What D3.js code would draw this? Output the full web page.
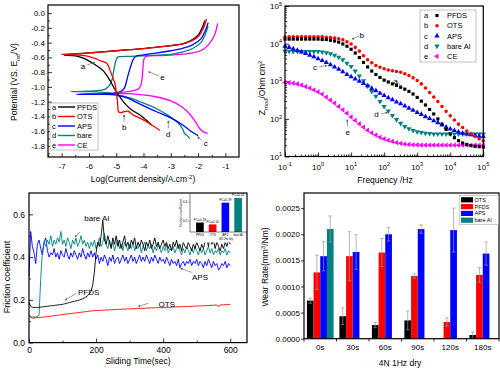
<!DOCTYPE html>
<meta charset="utf-8">
<style>
body { margin: 0; background: #fff; }
svg { font-family: "Liberation Sans", Arial, sans-serif; }
.frame { fill: none; stroke: #000; stroke-width: 1.2px; }
.axis path.domain { display: none; }
.axis line { stroke: #000; stroke-width: 0.8px; }
.axis text { fill: #000; }
.curve { fill: none; stroke-width: 1.3px; }
.trace { fill: none; stroke-width: 0.9px; }
.pointer { stroke: #555; stroke-width: 0.6px; fill: none; }
</style>
<body>
<svg width="500" height="374">
  <defs>
    <marker id="head" viewBox="0 0 6 6" refX="5" refY="3" markerWidth="4" markerHeight="4" orient="auto">
      <path d="M0,0L6,3L0,6Z" fill="#555"></path>
    </marker>
  </defs>
</svg>
</body>
<script src="https://d3js.org/d3.v7.min.js"></script>
<script>
// ---- (a) polarization curves: log current density vs potential ----
var pfdsLogI = [-1.75,-1.85,-2.0,-2.3,-2.6,-3.0,-3.5,-4.0,-4.5,-5.0,-5.5,-6.0,-6.5,-6.9,-6.5,-6.2,-5.9,-5.65,-5.48,-5.3,-5.17,-5.07,-4.99,-4.8,-4.62,-4.4,-4.13,-3.9,-3.7];
var pfdsE    = [-0.10,-0.20,-0.30,-0.38,-0.42,-0.44,-0.46,-0.48,-0.495,-0.51,-0.525,-0.54,-0.555,-0.57,-0.58,-0.61,-0.67,-0.73,-0.78,-0.87,-0.95,-1.02,-1.07,-1.17,-1.25,-1.32,-1.38,-1.45,-1.52];
var otsLogI  = [-1.69,-1.8,-1.95,-2.2,-2.5,-3.0,-3.5,-4.0,-4.5,-5.0,-5.5,-6.0,-6.5,-7.0,-6.5,-6.1,-5.8,-5.55,-5.35,-5.2,-5.1,-5.05,-5.0,-4.96,-4.94,-4.93,-4.87,-4.75,-4.56,-4.45,-4.38,-4.1,-3.89,-3.6,-3.4];
var otsE     = [-0.08,-0.20,-0.30,-0.37,-0.41,-0.44,-0.46,-0.48,-0.495,-0.51,-0.525,-0.54,-0.55,-0.56,-0.565,-0.58,-0.61,-0.65,-0.68,-0.80,-0.90,-0.95,-1.06,-1.18,-1.27,-1.32,-1.35,-1.34,-1.33,-1.36,-1.38,-1.43,-1.47,-1.54,-1.59];
var apsLogI  = [-1.63,-1.75,-1.9,-2.2,-2.6,-3.0,-3.5,-4.0,-4.25,-4.35,-4.45,-4.55,-4.62,-4.68,-4.78,-5.0,-5.4,-6.0,-6.45,-6.0,-5.5,-5.0,-4.6,-4.2,-3.8,-3.5,-3.0,-2.55,-2.3,-2.0];
var apsE     = [-0.13,-0.25,-0.35,-0.43,-0.48,-0.51,-0.54,-0.565,-0.58,-0.61,-0.70,-0.82,-0.92,-1.00,-1.05,-1.08,-1.09,-1.095,-1.10,-1.10,-1.10,-1.11,-1.15,-1.22,-1.29,-1.34,-1.42,-1.52,-1.59,-1.66];
var bareLogI = [-1.63,-1.75,-1.9,-2.2,-2.6,-3.0,-3.5,-4.0,-4.5,-4.85,-4.95,-5.0,-5.05,-5.1,-5.15,-5.25,-5.4,-5.7,-6.2,-6.65,-6.0,-5.5,-5.0,-4.5,-4.0,-3.5,-3.0,-2.7,-2.55,-2.5,-2.4,-2.3];
var bareE    = [-0.18,-0.30,-0.40,-0.48,-0.53,-0.56,-0.57,-0.58,-0.585,-0.59,-0.60,-0.63,-0.70,-0.80,-0.90,-0.98,-1.03,-1.05,-1.06,-1.065,-1.065,-1.075,-1.10,-1.15,-1.22,-1.30,-1.41,-1.50,-1.58,-1.63,-1.66,-1.70];
var ceLogI   = [-1.28,-1.4,-1.6,-1.85,-2.2,-2.7,-3.3,-3.8,-3.95,-4.0,-4.02,-4.05,-4.1,-4.2,-4.5,-5.0,-5.1,-4.7,-4.2,-3.6,-3.0,-2.6,-2.3,-2.1,-1.95,-1.8,-1.65];
var ceE      = [-0.14,-0.30,-0.42,-0.50,-0.54,-0.56,-0.575,-0.58,-0.60,-0.65,-0.75,-0.88,-0.98,-1.03,-1.06,-1.08,-1.085,-1.09,-1.10,-1.13,-1.19,-1.27,-1.37,-1.47,-1.56,-1.61,-1.63];

// ---- (b) impedance modulus vs frequency (log10 values) ----
var logFreq = [-1,-0.875,-0.75,-0.625,-0.5,-0.375,-0.25,-0.125,0,0.125,0.25,0.375,0.5,0.625,0.75,0.875,1,1.125,1.25,1.375,1.5,1.625,1.75,1.875,2,2.125,2.25,2.375,2.5,2.625,2.75,2.875,3,3.125,3.25,3.375,3.5,3.625,3.75,3.875,4,4.125,4.25,4.375,4.5,4.625,4.75,4.875,5];
var pfdsLogZ = [4.12,4.12,4.12,4.12,4.12,4.12,4.12,4.12,4.12,4.11,4.11,4.09,4.07,4.04,3.99,3.93,3.85,3.75,3.63,3.50,3.38,3.27,3.18,3.10,3.03,2.98,2.93,2.89,2.84,2.79,2.73,2.66,2.57,2.47,2.37,2.25,2.13,2.00,1.86,1.72,1.60,1.50,1.42,1.36,1.32,1.29,1.27,1.26,1.25];
var otsLogZ  = [4.18,4.18,4.18,4.18,4.18,4.18,4.18,4.18,4.18,4.18,4.17,4.16,4.15,4.13,4.10,4.05,3.99,3.90,3.80,3.68,3.57,3.49,3.42,3.37,3.33,3.30,3.28,3.26,3.24,3.20,3.15,3.09,3.02,2.93,2.82,2.70,2.58,2.46,2.33,2.20,2.08,1.97,1.86,1.77,1.68,1.60,1.53,1.47,1.42];
var apsLogZ  = [3.93,3.90,3.86,3.82,3.78,3.74,3.69,3.65,3.60,3.55,3.50,3.44,3.38,3.32,3.25,3.18,3.12,3.06,3.00,2.94,2.88,2.81,2.75,2.68,2.62,2.56,2.51,2.45,2.40,2.34,2.28,2.23,2.17,2.12,2.06,2.01,1.95,1.90,1.84,1.78,1.73,1.69,1.65,1.62,1.60,1.58,1.56,1.54,1.53];
var bareLogZ = [3.80,3.80,3.79,3.79,3.79,3.79,3.79,3.79,3.79,3.78,3.76,3.73,3.69,3.64,3.57,3.48,3.39,3.27,3.14,3.01,2.87,2.73,2.60,2.46,2.33,2.21,2.09,1.98,1.88,1.80,1.74,1.69,1.66,1.64,1.62,1.61,1.60,1.60,1.60,1.60,1.60,1.60,1.60,1.60,1.60,1.60,1.60,1.60,1.60];
var ceLogZ   = [2.97,2.96,2.95,2.93,2.90,2.86,2.82,2.77,2.72,2.66,2.58,2.50,2.42,2.33,2.24,2.15,2.05,1.96,1.87,1.78,1.70,1.63,1.57,1.51,1.47,1.43,1.40,1.37,1.35,1.33,1.32,1.31,1.31,1.30,1.30,1.30,1.30,1.30,1.30,1.30,1.30,1.30,1.30,1.30,1.30,1.30,1.30,1.30,1.30];

// ---- (c) friction coefficient vs sliding time ----
var slideTime = [0,5,10,15,20,25,30,35,40,45, 50,55,60,65,70,75,80,85,90,95,
  100,105,110,115,120,125,130,135,140,145, 150,155,160,165,170,175,180,185,190,195,
  200,205,210,215,220,225,230,235,240,245, 250,255,260,265,270,275,280,285,290,295,
  300,305,310,315,320,325,330,335,340,345, 350,355,360,365,370,375,380,385,390,395,
  400,405,410,415,420,425,430,435,440,445, 450,455,460,465,470,475,480,485,490,495,
  500,505,510,515,520,525,530,535,540,545, 550,555,560,565,570,575,580,585,590,595, 600];
var apsFric = [0.31,0.52,0.45,0.42,0.37,0.46,0.48,0.44,0.41,0.47, 0.49,0.43,0.40,0.42,0.41,0.44,0.40,0.42,0.39,0.43,
  0.41,0.40,0.44,0.41,0.39,0.42,0.40,0.43,0.41,0.39, 0.42,0.40,0.44,0.41,0.39,0.42,0.40,0.43,0.40,0.42,
  0.39,0.41,0.37,0.40,0.38,0.41,0.39,0.36,0.40,0.38, 0.41,0.37,0.39,0.40,0.37,0.39,0.41,0.38,0.40,0.37,
  0.39,0.41,0.38,0.40,0.37,0.39,0.41,0.38,0.40,0.38, 0.41,0.39,0.37,0.40,0.38,0.41,0.39,0.37,0.40,0.38,
  0.39,0.37,0.40,0.38,0.36,0.39,0.37,0.38,0.36,0.39, 0.35,0.37,0.38,0.36,0.38,0.37,0.39,0.36,0.38,0.37,
  0.39,0.36,0.38,0.37,0.35,0.38,0.36,0.39,0.37,0.35, 0.38,0.36,0.37,0.34,0.35,0.37,0.36,0.38,0.35,0.37, 0.36];
var bareFric = [0.13,0.12,0.12,0.12,0.12,0.12,0.13,0.30,0.43,0.47, 0.45,0.48,0.46,0.50,0.45,0.48,0.46,0.49,0.47,0.52,
  0.46,0.48,0.45,0.49,0.47,0.44,0.48,0.46,0.49,0.45, 0.47,0.50,0.46,0.48,0.45,0.47,0.44,0.47,0.45,0.48,
  0.44,0.46,0.49,0.45,0.47,0.51,0.46,0.44,0.48,0.45, 0.47,0.43,0.46,0.48,0.44,0.46,0.43,0.47,0.45,0.43,
  0.46,0.44,0.47,0.43,0.45,0.44,0.46,0.42,0.45,0.47, 0.43,0.45,0.44,0.46,0.42,0.45,0.43,0.46,0.44,0.42,
  0.45,0.43,0.46,0.42,0.44,0.43,0.45,0.42,0.44,0.46, 0.43,0.41,0.44,0.42,0.45,0.43,0.41,0.44,0.42,0.45,
  0.43,0.41,0.44,0.42,0.44,0.41,0.43,0.45,0.42,0.44, 0.41,0.43,0.42,0.44,0.41,0.43,0.42,0.44,0.41,0.43, 0.42];
var pfdsFric = [0.19,0.17,0.165,0.164,0.164,0.165,0.165,0.166,0.167,0.168, 0.169,0.170,0.171,0.172,0.173,0.174,0.175,0.176,0.177,0.178,
  0.179,0.181,0.183,0.185,0.187,0.189,0.191,0.193,0.195,0.197, 0.199,0.202,0.205,0.209,0.214,0.220,0.228,0.240,0.270,0.330,
  0.42,0.47,0.45,0.50,0.57,0.48,0.46,0.50,0.47,0.44, 0.49,0.46,0.50,0.45,0.48,0.44,0.47,0.50,0.45,0.47,
  0.44,0.48,0.46,0.49,0.44,0.47,0.45,0.48,0.46,0.43, 0.47,0.45,0.48,0.44,0.46,0.49,0.45,0.47,0.44,0.46,
  0.48,0.45,0.47,0.44,0.46,0.43,0.47,0.45,0.48,0.44, 0.46,0.43,0.47,0.45,0.44,0.47,0.45,0.43,0.46,0.44,
  0.47,0.45,0.43,0.46,0.44,0.47,0.49,0.45,0.50,0.46, 0.48,0.44,0.47,0.45,0.43,0.46,0.44,0.47,0.45,0.48, 0.46];
var otsFric = [0.130,0.118,0.115,0.115,0.116,0.117,0.118,0.118,0.119,0.120, 0.121,0.122,0.123,0.124,0.125,0.126,0.127,0.128,0.129,0.130,
  0.131,0.132,0.133,0.134,0.135,0.136,0.137,0.138,0.139,0.140, 0.141,0.142,0.143,0.144,0.145,0.146,0.147,0.148,0.149,0.149,
  0.150,0.151,0.150,0.152,0.151,0.152,0.153,0.152,0.154,0.153, 0.154,0.155,0.154,0.156,0.155,0.156,0.157,0.156,0.157,0.158,
  0.157,0.158,0.159,0.158,0.160,0.159,0.160,0.161,0.160,0.161, 0.162,0.161,0.162,0.163,0.162,0.163,0.164,0.163,0.164,0.163,
  0.165,0.164,0.165,0.166,0.165,0.166,0.167,0.166,0.167,0.168, 0.167,0.168,0.169,0.168,0.169,0.170,0.169,0.170,0.171,0.170,
  0.171,0.172,0.171,0.172,0.173,0.172,0.174,0.173,0.174,0.175, 0.174,0.176,0.175,0.168,0.176,0.177,0.176,0.178,0.177,0.179, 0.178];
var insetCats = ["PFDS", "OTS", "APS", "bare Al"];
var insetFric = [0.18, 0.16, 0.39, 0.44];

// ---- (d) wear rate bars ----
var wearCats = ["0s", "30s", "60s", "90s", "120s", "180s"];
var wearSeries = ["OTS", "PFDS", "APS", "bare Al"];
var otsWear  = [0.00073, 0.00043, 0.00026, 0.00035, 0.00001, 0.00007];
var otsErr   = [0.00005, 0.00016, 0.00005, 0.00018, 0, 0.00006];
var pfdsWear = [0.00127, 0.00158, 0.00165, 0.00120, 0.00032, 0.00122];
var pfdsErr  = [0.00033, 0.00047, 0.00027, 0.00004, 0.00008, 0.00014];
var apsWear  = [0.00158, 0.00166, 0.00200, 0.00210, 0.00208, 0.00163];
var apsErr   = [0.00028, 0.00033, 0.00013, 0.00008, 0.00042, 0.00022];
var bareWear = [0.00210, null, null, null, null, null];
var bareErr  = [0.00025, null, null, null, null, null];

var colors = { PFDS: "#000000", OTS: "#ff0000", APS: "#0000ff", bare: "#008080", CE: "#ff00ff" };

var svg = d3.select("svg");

function addAxis(axis, tx, ty, size) {
    var a = svg.append("g")
        .attr("class", "axis")
        .attr("transform", "translate(" + tx + "," + ty + ")")
        .call(axis);
    a.attr("font-family", null).attr("font-size", size || 8);
    return a;
}

// text with sub/superscripts: parts = [[text, 0|1|-1], ...]
function richText(sel, parts, size) {
    var prev = 0;
    parts.forEach(function(p) {
        var shift = p[1] === 1 ? -0.4 : (p[1] === -1 ? 0.3 : 0);
        sel.append("tspan")
            .attr("font-size", p[1] ? size * 0.7 : size)
            .attr("dy", ((shift - prev) * size) + "px")
            .text(p[0]);
        prev = shift;
    });
    return sel;
}

function pointer(x, y, a, b, c, d) {
    svg.append("line").attr("class", "pointer")
        .attr("x1", x(a)).attr("y1", y(b)).attr("x2", x(c)).attr("y2", y(d))
        .attr("marker-end", "url(#head)");
}
function note(x, y, a, b, t, size) {
    svg.append("text")
        .attr("x", x(a)).attr("y", y(b)).attr("dy", "0.35em")
        .attr("text-anchor", "middle")
        .attr("font-size", size || 8)
        .text(t);
}

// =================== panel (a) ===================
var x1 = d3.scaleLinear().domain([-7.5, -0.5]).range([48, 239]);
var y1 = d3.scaleLinear().domain([-1.95, 0.11]).range([157, 5]);

addAxis(d3.axisBottom(x1).tickValues([-7, -6, -5, -4, -3, -2, -1]).tickSize(-4).tickPadding(6)
    .tickFormat(function(d) { return String(d); }), 0, 157);
addAxis(d3.axisBottom(x1).tickValues([-7.5, -6.5, -5.5, -4.5, -3.5, -2.5, -1.5]).tickSize(-2).tickFormat(""), 0, 157);
addAxis(d3.axisLeft(y1).tickValues([0, -0.2, -0.4, -0.6, -0.8, -1.0, -1.2, -1.4, -1.6, -1.8]).tickSize(-4).tickPadding(3)
    .tickFormat(function(d) { return d.toFixed(1); }), 48, 0);
addAxis(d3.axisLeft(y1).tickValues([-0.1, -0.3, -0.5, -0.7, -0.9, -1.1, -1.3, -1.5, -1.7, -1.9]).tickSize(-2).tickFormat(""), 48, 0);

var polSeries = [
    { tag: "e", name: "CE",   color: colors.CE,   x: ceLogI,   y: ceE },
    { tag: "d", name: "bare", color: colors.bare, x: bareLogI, y: bareE },
    { tag: "c", name: "APS",  color: colors.APS,  x: apsLogI,  y: apsE },
    { tag: "a", name: "PFDS", color: colors.PFDS, x: pfdsLogI, y: pfdsE },
    { tag: "b", name: "OTS",  color: colors.OTS,  x: otsLogI,  y: otsE }
];
var polLine = d3.line()
    .curve(d3.curveCatmullRom.alpha(0.5))
    .x(function(d) { return x1(d[0]); })
    .y(function(d) { return y1(d[1]); });

svg.append("g").selectAll("path")
    .data(polSeries)
    .enter().append("path")
    .attr("class", "curve")
    .style("stroke", function(d) { return d.color; })
    .attr("d", function(d) { return polLine(d3.zip(d.x, d.y)); });

svg.append("rect").attr("class", "frame").attr("x", 48).attr("y", 5).attr("width", 191).attr("height", 152);

// legend (a)
var leg1 = svg.append("g").attr("transform", "translate(50,103)");
leg1.append("rect").attr("width", 48).attr("height", 47).attr("fill", "#fff").attr("stroke", "#999").attr("stroke-width", 0.6);
var leg1Items = leg1.selectAll("g.item")
    .data(polSeries.slice().sort(function(a, b) { return a.tag < b.tag ? -1 : 1; }))
    .enter().append("g")
    .attr("transform", function(d, i) { return "translate(0," + (4 + i * 9.5) + ")"; });
leg1Items.append("text").attr("x", 2).attr("dy", "0.35em").attr("font-size", 7.5).text(function(d) { return d.tag; });
leg1Items.append("line").attr("x1", 8).attr("x2", 25).attr("stroke-width", 1.4)
    .attr("stroke", function(d) { return d.color; });
leg1Items.append("text").attr("x", 27).attr("dy", "0.35em").attr("font-size", 7.5).text(function(d) { return d.name; });

note(x1, y1, -6.22, -0.717, "a"); pointer(x1, y1, -6.06, -0.70, -5.78, -0.67);
note(x1, y1, -3.30, -0.87, "e");  pointer(x1, y1, -3.42, -0.852, -3.82, -0.795);
note(x1, y1, -4.71, -1.54, "b");  pointer(x1, y1, -4.71, -1.47, -4.71, -1.38);
note(x1, y1, -3.09, -1.64, "d");  pointer(x1, y1, -3.09, -1.56, -3.09, -1.46);
note(x1, y1, -1.72, -1.76, "c");  pointer(x1, y1, -1.87, -1.72, -2.02, -1.68);

richText(svg.append("text").attr("x", 143).attr("y", 182).attr("text-anchor", "middle"),
    [["Log(Current density/A.cm", 0], ["-2", 1], [")", 0]], 8.5);
richText(svg.append("text").attr("transform", "translate(17,82) rotate(-90)").attr("text-anchor", "middle"),
    [["Potential (VS. E", 0], ["ref", -1], ["/V)", 0]], 8.5);

// =================== panel (b) ===================
var x2 = d3.scaleLog().domain([0.1, 1e5]).range([285, 483.3]);
var y2 = d3.scaleLog().domain([10, 1e5]).range([156.5, 6]);
var decadesX = [0.1, 1, 10, 100, 1e3, 1e4, 1e5];
var decadesY = [10, 100, 1e3, 1e4, 1e5];
function minorOf(decs) {
    var m = [];
    decs.slice(0, -1).forEach(function(d) { [2, 3, 4, 5, 6, 7, 8, 9].forEach(function(k) { m.push(d * k); }); });
    return m;
}
addAxis(d3.axisBottom(x2).tickValues(decadesX).tickSize(-4).tickFormat(""), 0, 156.5);
addAxis(d3.axisBottom(x2).tickValues(minorOf(decadesX)).tickSize(-2).tickFormat(""), 0, 156.5);
addAxis(d3.axisLeft(y2).tickValues(decadesY).tickSize(-4).tickFormat(""), 285, 0);
addAxis(d3.axisLeft(y2).tickValues(minorOf(decadesY)).tickSize(-2).tickFormat(""), 285, 0);

decadesX.forEach(function(d) {
    richText(svg.append("text").attr("x", x2(d)).attr("y", 169.5).attr("text-anchor", "middle"),
        [["10", 0], [String(Math.round(Math.log10(d))), 1]], 8);
});
decadesY.forEach(function(d) {
    richText(svg.append("text").attr("x", 282).attr("y", y2(d) + 3).attr("text-anchor", "end"),
        [["10", 0], [String(Math.round(Math.log10(d))), 1]], 8);
});

var eisSeries = [
    { tag: "a", name: "PFDS",    color: colors.PFDS, z: pfdsLogZ, sym: d3.symbolSquare,   rot: 0,   size: 10 },
    { tag: "b", name: "OTS",     color: colors.OTS,  z: otsLogZ,  sym: d3.symbolCircle,   rot: 0,   size: 10 },
    { tag: "c", name: "APS",     color: colors.APS,  z: apsLogZ,  sym: d3.symbolTriangle, rot: 0,   size: 12 },
    { tag: "d", name: "bare Al", color: colors.bare, z: bareLogZ, sym: d3.symbolTriangle, rot: 180, size: 12 },
    { tag: "e", name: "CE",      color: colors.CE,   z: ceLogZ,   sym: d3.symbolTriangle, rot: -90, size: 12 }
];
var eisG = svg.append("g").selectAll("g")
    .data(eisSeries.slice().reverse())
    .enter().append("g")
    .attr("fill", function(d) { return d.color; });
eisG.selectAll("path")
    .data(function(s) { return s.z.map(function(v, i) { return { f: Math.pow(10, logFreq[i]), z: Math.pow(10, v), s: s }; }); })
    .enter().append("path")
    .attr("transform", function(d) { return "translate(" + x2(d.f) + "," + y2(d.z) + ") rotate(" + d.s.rot + ")"; })
    .attr("d", function(d) { return d3.symbol().type(d.s.sym).size(d.s.size)(); });

svg.append("rect").attr("class", "frame").attr("x", 285).attr("y", 6).attr("width", 198.3).attr("height", 150.5);

var leg2 = svg.append("g").attr("transform", "translate(420,10)");
leg2.append("rect").attr("width", 56).attr("height", 52).attr("fill", "#fff").attr("stroke", "#999").attr("stroke-width", 0.6);
var leg2Items = leg2.selectAll("g.item")
    .data(eisSeries)
    .enter().append("g")
    .attr("transform", function(d, i) { return "translate(0," + (5.5 + i * 10.2) + ")"; });
leg2Items.append("text").attr("x", 4).attr("dy", "0.35em").attr("font-size", 7.5).text(function(d) { return d.tag; });
leg2Items.append("path")
    .attr("transform", function(d) { return "translate(17,0) rotate(" + d.rot + ")"; })
    .attr("fill", function(d) { return d.color; })
    .attr("d", function(d) { return d3.symbol().type(d.sym).size(d.size)(); });
leg2Items.append("text").attr("x", 27).attr("dy", "0.35em").attr("font-size", 7.5).text(function(d) { return d.name; });

var lx2 = function(v) { return x2(Math.pow(10, v)); };
var ly2 = function(v) { return y2(Math.pow(10, v)); };
note(lx2, ly2, 1.32, 4.22, "b"); pointer(lx2, ly2, 1.24, 4.20, 1.03, 4.12);
note(lx2, ly2, -0.09, 3.38, "c"); pointer(lx2, ly2, 0.03, 3.38, 0.26, 3.42);
note(lx2, ly2, 2.35, 2.99, "a"); pointer(lx2, ly2, 2.43, 2.94, 2.53, 2.86);
note(lx2, ly2, 1.77, 2.13, "d"); pointer(lx2, ly2, 1.9, 2.13, 2.1, 2.17);
note(lx2, ly2, 0.9, 1.64, "e"); pointer(lx2, ly2, 0.9, 1.80, 0.88, 1.98);

svg.append("text").attr("x", 385).attr("y", 183).attr("text-anchor", "middle").attr("font-size", 8.5).text("Frequency /Hz");
richText(svg.append("text").attr("transform", "translate(265,88) rotate(-90)").attr("text-anchor", "middle"),
    [["Z", 0], ["mod", -1], ["/Ohm cm", 0], ["2", 1]], 8.5);

// =================== panel (c) ===================
var x3 = d3.scaleLinear().domain([0, 650]).range([29, 247]);
var y3 = d3.scaleLinear().domain([0, 0.7]).range([342.6, 193]);

addAxis(d3.axisBottom(x3).tickValues([0, 200, 400, 600]).tickSize(-4).tickPadding(4), 0, 342.6, 8.5);
addAxis(d3.axisBottom(x3).tickValues([100, 300, 500]).tickSize(-2).tickFormat(""), 0, 342.6);
addAxis(d3.axisLeft(y3).tickValues([0, 0.2, 0.4, 0.6]).tickSize(-4).tickPadding(4)
    .tickFormat(function(d) { return d.toFixed(1); }), 29, 0, 8.5);
addAxis(d3.axisLeft(y3).tickValues([0.1, 0.3, 0.5]).tickSize(-2).tickFormat(""), 29, 0);

var fricSeries = [
    { name: "APS",     color: colors.APS,  v: apsFric },
    { name: "bare Al", color: colors.bare, v: bareFric },
    { name: "PFDS",    color: colors.PFDS, v: pfdsFric },
    { name: "OTS",     color: colors.OTS,  v: otsFric }
];
var fricLine = d3.line()
    .x(function(d) { return x3(d[0]); })
    .y(function(d) { return y3(d[1]); });
svg.append("g").selectAll("path")
    .data(fricSeries)
    .enter().append("path")
    .attr("class", "trace")
    .style("stroke", function(d) { return d.color; })
    .attr("d", function(d) { return fricLine(d3.zip(slideTime, d.v)); });

note(x3, y3, 202, 0.58, "bare Al", 8); pointer(x3, y3, 152, 0.517, 137, 0.494);
note(x3, y3, 178, 0.238, "PFDS", 8);   pointer(x3, y3, 142, 0.231, 108, 0.199);
note(x3, y3, 510, 0.307, "APS", 8);    pointer(x3, y3, 485, 0.329, 452, 0.347);
note(x3, y3, 411, 0.179, "OTS", 8);    pointer(x3, y3, 356, 0.184, 326, 0.169);

// inset bar chart
svg.append("rect").attr("x", 178).attr("y", 193.5).attr("width", 69).attr("height", 49).attr("fill", "#fff");
var xi = d3.scaleBand().domain(insetCats).range([191, 247]).padding(0.4);
var yi = d3.scaleLinear().domain([0.08, 0.45]).range([232, 197]);
var insetColors = [colors.PFDS, colors.OTS, colors.APS, colors.bare];
svg.append("g").selectAll("rect")
    .data(insetFric)
    .enter().append("rect")
    .attr("x", function(d, i) { return xi(insetCats[i]); })
    .attr("width", xi.bandwidth())
    .attr("y", function(d) { return yi(d); })
    .attr("height", function(d) { return yi(0.08) - yi(d); })
    .attr("fill", function(d, i) { return insetColors[i]; });
svg.append("g").selectAll("text")
    .data(insetFric)
    .enter().append("text")
    .attr("x", function(d, i) { return xi(insetCats[i]) + xi.bandwidth() / 2; })
    .attr("y", function(d) { return yi(d) - 1.5; })
    .attr("text-anchor", "middle").attr("font-size", 3.2)
    .text(function(d) { return "FC=" + d.toFixed(2); });
svg.append("line").attr("x1", 190).attr("x2", 190).attr("y1", 193.5).attr("y2", 232).attr("stroke", "#000").attr("stroke-width", 0.5);
svg.append("line").attr("x1", 190).attr("x2", 247).attr("y1", 232).attr("y2", 232).attr("stroke", "#000").attr("stroke-width", 0.5);
var ia = addAxis(d3.axisLeft(yi).tickValues([0.2, 0.4]).tickSize(1.5).tickPadding(1)
    .tickFormat(function(d) { return d.toFixed(1); }), 190, 0, 3.5);
ia.selectAll("line").style("stroke-width", 0.4);
svg.append("g").selectAll("text")
    .data(insetCats)
    .enter().append("text")
    .attr("x", function(d) { return xi(d) + xi.bandwidth() / 2; })
    .attr("y", 236)
    .attr("text-anchor", "middle").attr("font-size", 3)
    .text(function(d) { return d; });
svg.append("text").attr("x", 226).attr("y", 240).attr("text-anchor", "middle").attr("font-size", 2.8).text("4N 1Hz dry");
svg.append("text").attr("transform", "translate(182,213) rotate(-90)").attr("text-anchor", "middle")
    .attr("font-size", 3.5).text("Friction coefficient");

svg.append("rect").attr("class", "frame").attr("x", 29).attr("y", 193).attr("width", 218).attr("height", 149.6);

svg.append("text").attr("x", 138).attr("y", 363.5).attr("text-anchor", "middle").attr("font-size", 8.5).text("Sliding Time(sec)");
svg.append("text").attr("transform", "translate(10,277) rotate(-90)").attr("text-anchor", "middle")
    .attr("font-size", 9).text("Friction coefficient");

// =================== panel (d) ===================
var x4 = d3.scaleBand().domain(wearCats).range([304, 499]);
var xs4 = d3.scaleBand().domain(wearSeries).range([0, 26.7]);
var y4 = d3.scaleLinear().domain([0, 0.00279]).range([338.7, 193]);
var wearColors = { "OTS": colors.PFDS, "PFDS": colors.OTS, "APS": colors.APS, "bare Al": colors.bare };
var wearValues = { "OTS": otsWear, "PFDS": pfdsWear, "APS": apsWear, "bare Al": bareWear };
var wearErrors = { "OTS": otsErr, "PFDS": pfdsErr, "APS": apsErr, "bare Al": bareErr };

var wearData = [];
wearSeries.forEach(function(s) {
    wearCats.forEach(function(c, i) {
        if (wearValues[s][i] != null) wearData.push({ s: s, c: c, v: wearValues[s][i], e: wearErrors[s][i] });
    });
});
var groupOffset = (x4.bandwidth() - 26.7) / 2;

svg.append("g").selectAll("rect")
    .data(wearData)
    .enter().append("rect")
    .attr("x", function(d) { return x4(d.c) + groupOffset + xs4(d.s); })
    .attr("width", xs4.bandwidth())
    .attr("y", function(d) { return y4(d.v); })
    .attr("height", function(d) { return y4(0) - y4(d.v); })
    .attr("fill", function(d) { return wearColors[d.s]; });

var errG = svg.append("g").attr("stroke", "#9a9a9a").attr("stroke-width", 0.7)
    .selectAll("g")
    .data(wearData.filter(function(d) { return d.e > 0; }))
    .enter().append("g")
    .attr("transform", function(d) { return "translate(" + (x4(d.c) + groupOffset + xs4(d.s) + xs4.bandwidth() / 2) + ",0)"; });
errG.append("line")
    .attr("y1", function(d) { return y4(d.v - d.e); })
    .attr("y2", function(d) { return y4(d.v + d.e); });
errG.append("line").attr("x1", -1.8).attr("x2", 1.8)
    .attr("y1", function(d) { return y4(d.v + d.e); })
    .attr("y2", function(d) { return y4(d.v + d.e); });
errG.append("line").attr("x1", -1.8).attr("x2", 1.8)
    .attr("y1", function(d) { return y4(d.v - d.e); })
    .attr("y2", function(d) { return y4(d.v - d.e); });

addAxis(d3.axisLeft(y4).tickValues([0, 0.0005, 0.001, 0.0015, 0.002, 0.0025]).tickSize(3).tickPadding(1)
    .tickFormat(function(d) { return d.toFixed(4); }), 304, 0, 8);
addAxis(d3.axisBottom(x4).tickSize(0).tickPadding(6), 0, 338.7, 8);
svg.append("g").selectAll("line")
    .data(wearCats.concat([null]))
    .enter().append("line")
    .attr("x1", function(d) { return d ? x4(d) : x4.range()[1]; })
    .attr("x2", function(d) { return d ? x4(d) : x4.range()[1]; })
    .attr("y1", 338.7).attr("y2", 341.5)
    .attr("stroke", "#000").attr("stroke-width", 0.8);

svg.append("rect").attr("class", "frame").attr("x", 304).attr("y", 193).attr("width", 195).attr("height", 145.7);

var leg4 = svg.append("g").attr("transform", "translate(459.5,195.5)");
leg4.append("rect").attr("width", 39).attr("height", 29).attr("fill", "#fff").attr("stroke", "#999").attr("stroke-width", 0.5);
var leg4Items = leg4.selectAll("g.item")
    .data(wearSeries)
    .enter().append("g")
    .attr("transform", function(d, i) { return "translate(0," + (4.3 + i * 6.8) + ")"; });
leg4Items.append("rect").attr("x", 1.5).attr("y", -2.6).attr("width", 12).attr("height", 5.2)
    .attr("fill", function(d) { return wearColors[d]; });
leg4Items.append("text").attr("x", 15).attr("dy", "0.35em").attr("font-size", 5.5).text(function(d) { return d; });

svg.append("text").attr("x", 400).attr("y", 366).attr("text-anchor", "middle").attr("font-size", 8.5).text("4N 1Hz dry");
richText(svg.append("text").attr("transform", "translate(268,267) rotate(-90)").attr("text-anchor", "middle"),
    [["Wear Rate(mm", 0], ["3", 1], ["/Nm)", 0]], 8.5);
</script>
